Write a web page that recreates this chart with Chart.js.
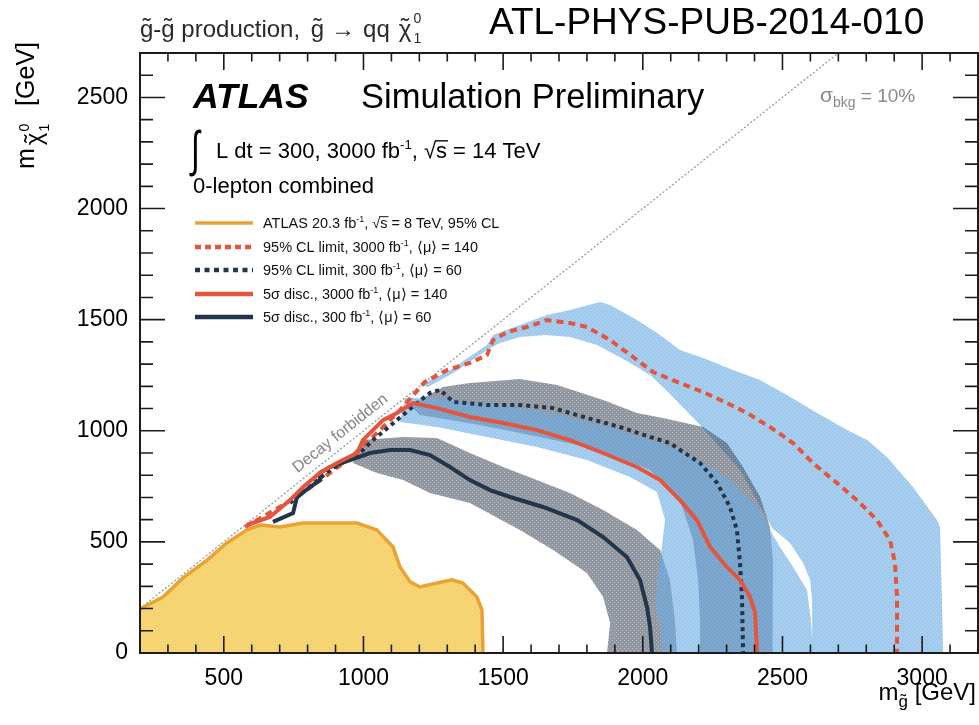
<!DOCTYPE html>
<html lang="en">
<head>
<meta charset="utf-8">
<title>Gluino pair production reach, 14 TeV</title>
<script src="https://cdn.jsdelivr.net/npm/chart.js"></script>
<style>
  html, body { margin: 0; padding: 0; background: #fff; }
</style>
</head>
<body>
<canvas id="reach" width="979" height="725"></canvas>
<script>
// axis ticks (GeV)
const xTicks = [500, 1000, 1500, 2000, 2500, 3000];
const yTicks = [0, 500, 1000, 1500, 2000, 2500];

// [m_gluino, m_neutralino] in GeV
const atlas8TeV = [[200,195],[206,202],[282,252],[354,338],[440,418],[511,495],[583,554],[630,576],[701,567],
  [784,585],[977,585],[1048,554],[1106,477],[1131,387],[1167,320],[1202,297],[1263,315],[1317,329],
  [1356,315],[1406,252],[1424,194],[1428,0]];

// +-1 sigma band of the 95% CL limit, 3000 fb-1
const band3000clOuter = [[1202,1206],[1299,1265],[1442,1386],[1464,1431],[1560,1476],[1657,1521],[1739,1544],
  [1847,1580],[1883,1566],[1979,1499],[2062,1431],[2133,1364],[2216,1328],[2323,1274],[2420,1229],
  [2516,1161],[2624,1080],[2731,1004],[2803,959],[2874,882],[2967,747],[3053,599],[3064,567],[3071,239],[3075,0]];
const band3000clInner = [[1231,1197],[1328,1265],[1442,1364],[1489,1395],[1560,1422],[1650,1431],[1739,1422],
  [1836,1386],[1936,1319],[2026,1251],[2090,1175],[2205,1026],[2348,824],[2463,563],[2527,495],
  [2574,405],[2599,329],[2606,239],[2609,0]];

// +-1 sigma band of the 5 sigma discovery, 3000 fb-1
const band3000discUpper = [[1149,1148],[1274,1148],[1489,1116],[1704,1071],[1918,1004],[2133,914],[2312,779],
  [2420,644],[2455,554],[2491,477],[2538,387],[2588,284],[2602,149],[2609,0]];
const band3000discLower = [[1131,1040],[1263,1017],[1442,972],[1621,927],[1800,869],[1954,792],[2051,725],
  [2080,599],[2062,419],[2044,239],[2062,104],[2072,0]];

// +-1 sigma band of the 95% CL limit, 300 fb-1
const band300clUpper = [[1167,1116],[1285,1197],[1381,1215],[1560,1233],[1693,1206],[1858,1139],[1979,1080],
  [2072,1058],[2216,1017],[2301,945],[2359,837],[2420,702],[2455,567],[2466,419],[2466,239],[2463,0]];
const band300clLower = [[1202,1071],[1417,1026],[1632,972],[1847,914],[2026,824],[2133,689],[2180,509],
  [2198,329],[2205,149],[2205,0]];

// +-1 sigma band of the 5 sigma discovery, 300 fb-1
const band300discUpper = [[998,958],[1142,972],[1263,967],[1381,900],[1500,837],[1621,778],[1739,720],
  [1858,643],[1979,553],[2062,463],[2097,328],[2115,148],[2122,0]];
const band300discLower = [[962,855],[1048,810],[1142,778],[1238,720],[1381,675],[1560,553],[1679,463],
  [1800,360],[1858,252],[1883,135],[1872,0]];

// central curves
const cl3000 = [[576,567],[773,711],[952,877],[1059,1003],[1131,1093],[1220,1220],[1299,1273],[1381,1305],
  [1442,1341],[1464,1408],[1514,1444],[1585,1467],[1657,1498],[1739,1485],[1800,1467],[1883,1408],
  [1965,1332],[2037,1264],[2133,1215],[2216,1174],[2301,1125],[2373,1080],[2455,1017],[2538,945],
  [2609,855],[2695,765],[2778,675],[2838,598],[2885,508],[2903,405],[2910,252],[2910,0]];
const cl300 = [[737,675],[880,823],[998,913],[1034,958],[1120,1048],[1192,1125],[1238,1170],[1274,1184],
  [1321,1130],[1442,1116],[1560,1116],[1679,1102],[1800,1058],[1918,1017],[2037,968],[2097,945],
  [2133,914],[2205,855],[2266,765],[2312,657],[2337,553],[2348,405],[2355,252],[2359,0]];
const disc3000 = [[583,576],[665,612],[737,688],[784,747],[844,810],[905,855],[977,900],[998,958],
  [1070,1048],[1120,1080],[1177,1125],[1263,1102],[1381,1062],[1500,1035],[1621,1003],[1739,958],
  [1858,900],[1979,837],[2062,778],[2133,688],[2194,598],[2241,477],[2301,387],[2348,328],[2384,252],
  [2402,180],[2409,0]];
const disc300 = [[676,590],[748,630],[762,702],[809,747],[844,778],[844,810],[880,837],[952,868],
  [1023,900],[1095,913],[1167,913],[1238,891],[1310,837],[1381,778],[1453,733],[1525,702],[1643,657],
  [1765,598],[1858,522],[1943,432],[1990,328],[2015,207],[2026,117],[2033,0]];

// kinematic limit m_chi = m_gluino
const diagonal = [[200,200],[2700,2700]];

const FONT = '"Liberation Sans", Arial, Helvetica, sans-serif';
const RED = '#e4553d';
const NAVY = '#22354a';
const ORANGE = '#eba233';

const pts = arr => arr.map(p => ({x: p[0], y: p[1]}));
const polygon = (a, b) => pts(a.concat(b.slice().reverse()));

function pattern(base, dot) {
  const c = document.createElement('canvas');
  c.width = 4; c.height = 4;
  const g = c.getContext('2d');
  g.fillStyle = base; g.fillRect(0, 0, 4, 4);
  g.clearRect(0, 0, 1, 1); g.clearRect(2, 2, 1, 1);
  g.fillStyle = dot; g.fillRect(0, 0, 1, 1); g.fillRect(2, 2, 1, 1);
  return g.createPattern(c, 'repeat');
}
const blueFill = pattern('rgba(105,172,228,0.64)', 'rgba(105,172,228,0.42)');
const grayFill = pattern('rgba(72,82,96,0.60)', 'rgba(72,82,96,0.38)');
const yellowFill = pattern('rgba(246,208,100,0.95)', 'rgba(246,208,100,0.6)');

function band(data, fill, order) {
  return { data: polygon(data[0], data[1]), showLine: true, fill: 'shape', backgroundColor: fill,
    borderWidth: 0, pointRadius: 0, order: order };
}
function curve(data, color, dash, order) {
  return { data: pts(data), showLine: true, fill: false, borderColor: color, borderWidth: 4,
    borderDash: dash, pointRadius: 0, order: order };
}

// draws text pieces left to right; piece = {t, s, dy, f, stay, tilde, over, gap}
function runs(ctx, x, y, parts, measureOnly) {
  let cx = x;
  for (const p of parts) {
    ctx.font = (p.f || '') + ' ' + p.s + 'px ' + FONT;
    const w = ctx.measureText(p.t).width;
    const by = y + (p.dy || 0);
    if (!measureOnly) {
      ctx.fillText(p.t, cx, by);
      if (p.tilde) {
        const tw = ctx.measureText('\u02DC').width;
        ctx.fillText('\u02DC', cx + (w - tw) / 2, by + (p.tdy || 0));
      }
      if (p.over) {
        ctx.save();
        ctx.lineWidth = Math.max(1, p.s / 16);
        ctx.strokeStyle = ctx.fillStyle;
        ctx.beginPath();
        ctx.moveTo(cx - 1, by - p.s * 0.78);
        ctx.lineTo(cx + w + 1, by - p.s * 0.78);
        ctx.stroke();
        ctx.restore();
      }
    }
    if (!p.stay) cx += w + (p.gap || 0);
  }
  return cx - x;
}

const legendRows = [
  { color: ORANGE, dash: [], width: 3.5, parts: [{t: 'ATLAS 20.3 fb', s: 14.5}, {t: '-1', s: 9, dy: -6}, {t: ', \u221A', s: 14.5}, {t: 's', s: 14.5, over: true}, {t: ' = 8 TeV, 95% CL', s: 14.5}] },
  { color: RED, dash: [6, 4], width: 4.5, parts: [{t: '95% CL limit, 3000 fb', s: 14.5}, {t: '-1', s: 9, dy: -6}, {t: ', \u27E8\u03BC\u27E9 = 140', s: 14.5}] },
  { color: NAVY, dash: [5, 4.5], width: 4.5, parts: [{t: '95% CL limit, 300 fb', s: 14.5}, {t: '-1', s: 9, dy: -6}, {t: ', \u27E8\u03BC\u27E9 = 60', s: 14.5}] },
  { color: RED, dash: [], width: 4.5, parts: [{t: '5\u03C3 disc., 3000 fb', s: 14.5}, {t: '-1', s: 9, dy: -6}, {t: ', \u27E8\u03BC\u27E9 = 140', s: 14.5}] },
  { color: NAVY, dash: [], width: 4.5, parts: [{t: '5\u03C3 disc., 300 fb', s: 14.5}, {t: '-1', s: 9, dy: -6}, {t: ', \u27E8\u03BC\u27E9 = 60', s: 14.5}] }
];
const legendY = [223, 247, 270, 294, 317];

const decorations = {
  id: 'decorations',
  afterDraw(chart) {
    const {ctx, chartArea: a, scales: {x, y}} = chart;
    ctx.save();

    // frame and inward ticks on all four sides
    ctx.strokeStyle = '#1c1c1c';
    ctx.lineWidth = 2;
    ctx.strokeRect(a.left, a.top, a.right - a.left, a.bottom - a.top);
    ctx.lineWidth = 1.6;
    ctx.beginPath();
    for (let v = 200; v <= 3200; v += 100) {
      const px = x.getPixelForValue(v);
      const len = v % 500 === 0 ? 17 : 8.5;
      ctx.moveTo(px, a.bottom); ctx.lineTo(px, a.bottom - len);
      ctx.moveTo(px, a.top); ctx.lineTo(px, a.top + len);
    }
    for (let v = 0; v <= 2700; v += 100) {
      const py = y.getPixelForValue(v);
      const len = v % 500 === 0 ? 25 : 13;
      ctx.moveTo(a.left, py); ctx.lineTo(a.left + len, py);
      ctx.moveTo(a.right, py); ctx.lineTo(a.right - len, py);
    }
    ctx.stroke();

    ctx.fillStyle = '#000';
    ctx.textBaseline = 'alphabetic';
    ctx.textAlign = 'left';

    // header above the frame
    ctx.fillStyle = '#2a2a2a';
    runs(ctx, 140, 37, [{t: 'g', s: 24, tilde: true, tdy: -2}, {t: '-', s: 24}, {t: 'g', s: 24, tilde: true, tdy: -2},
      {t: ' production, ', s: 24, gap: 4}, {t: 'g', s: 24, tilde: true, tdy: -2, gap: 7}, {t: '\u2192', s: 24, gap: 8},
      {t: 'qq', s: 24, gap: 9}, {t: '\u03C7', s: 24, tilde: true, tdy: -2, gap: 2},
      {t: '0', s: 14, dy: -14, stay: true}, {t: '1', s: 14, dy: 6}]);
    ctx.fillStyle = '#000';
    ctx.font = '37px ' + FONT;
    ctx.fillText('ATL-PHYS-PUB-2014-010', 489, 34);

    // ATLAS label block
    runs(ctx, 193, 108, [{t: 'ATLAS', s: 35.5, f: 'italic bold'}]);
    runs(ctx, 361, 108, [{t: 'Simulation Preliminary', s: 34.5}]);
    ctx.save();
    ctx.translate(191, 166);
    ctx.scale(1, 1.55);
    ctx.font = '32px ' + FONT;
    ctx.fillText('\u222B', 0, 0);
    ctx.restore();
    runs(ctx, 216, 158, [{t: 'L dt = 300, 3000 fb', s: 22}, {t: '-1', s: 13, dy: -9}, {t: ', \u221A', s: 22},
      {t: 's', s: 22, over: true}, {t: ' = 14 TeV', s: 22}]);
    runs(ctx, 193, 193, [{t: '0-lepton combined', s: 22}]);

    // legend
    legendRows.forEach((row, i) => {
      const ly = legendY[i];
      ctx.save();
      ctx.strokeStyle = row.color;
      ctx.lineWidth = row.width;
      ctx.setLineDash(row.dash);
      ctx.beginPath();
      ctx.moveTo(195, ly); ctx.lineTo(253, ly);
      ctx.stroke();
      ctx.restore();
      ctx.fillStyle = '#111';
      runs(ctx, 263, ly + 5, row.parts);
    });

    // sigma_bkg label
    ctx.fillStyle = '#8a8a8a';
    runs(ctx, 820, 102, [{t: '\u03C3', s: 21}, {t: 'bkg', s: 14, dy: 5}, {t: ' = 10%', s: 19}]);

    // kinematic boundary label
    ctx.save();
    ctx.translate(340, 433);
    ctx.rotate(-Math.atan2(y.getPixelForValue(0) - y.getPixelForValue(1000), x.getPixelForValue(1200) - x.getPixelForValue(200)));
    ctx.fillStyle = '#858585';
    ctx.font = '16px ' + FONT;
    ctx.textAlign = 'center';
    ctx.fillText('Decay forbidden', 0, 5);
    ctx.restore();

    // axis titles
    ctx.fillStyle = '#000';
    const xt = [{t: 'm', s: 24}, {t: 'g', s: 17, dy: 7, tilde: true, tdy: -1}, {t: ' [GeV]', s: 24}];
    const w = runs(ctx, 0, 0, xt, true);
    runs(ctx, 976 - w, 700, xt);
    ctx.save();
    ctx.translate(34, 169);
    ctx.rotate(-Math.PI / 2);
    runs(ctx, 0, 0, [{t: 'm', s: 25, gap: 3}, {t: '\u03C7', s: 24, dy: 8, tilde: true, tdy: -1, gap: 1},
      {t: '0', s: 14, dy: -5, stay: true}, {t: '1', s: 14, dy: 15, gap: 4}, {t: '  [GeV]', s: 25}]);
    ctx.restore();

    ctx.restore();
  }
};

const plain = v => String(v);

new Chart(document.getElementById('reach').getContext('2d'), {
  type: 'scatter',
  data: {
    datasets: [
      band([band3000clOuter, band3000clInner], blueFill, 20),
      band([band300clUpper, band300clLower], grayFill, 19),
      band([band300discUpper, band300discLower], grayFill, 18),
      band([band3000discUpper, band3000discLower], blueFill, 17),
      { data: pts(atlas8TeV), showLine: true, fill: 'origin', backgroundColor: yellowFill,
        borderColor: ORANGE, borderWidth: 3.5, pointRadius: 0, order: 16 },
      { data: pts(diagonal), showLine: true, fill: false, borderColor: '#9a9a9a', borderWidth: 1.3,
        borderDash: [2, 2], pointRadius: 0, order: 15 },
      curve(cl3000, RED, [7, 5], 5),
      curve(cl300, NAVY, [4, 4], 4),
      curve(disc300, NAVY, [], 3),
      curve(disc3000, RED, [], 2)
    ]
  },
  options: {
    responsive: false,
    animation: false,
    layout: { padding: { top: 53, right: 1, left: 0, bottom: 0 } },
    plugins: { legend: { display: false }, tooltip: { enabled: false } },
    scales: {
      x: {
        type: 'linear', min: 200, max: 3200,
        grid: { display: false, drawTicks: false }, border: { display: false },
        ticks: { font: { family: FONT, size: 23 }, color: '#000', padding: 12, maxRotation: 0, callback: plain },
        afterBuildTicks: s => { s.ticks = xTicks.map(v => ({ value: v })); },
        afterFit: s => { s.height = 72; }
      },
      y: {
        type: 'linear', min: 0, max: 2700,
        grid: { display: false, drawTicks: false }, border: { display: false },
        ticks: { font: { family: FONT, size: 23 }, color: '#000', padding: 12, callback: plain },
        afterBuildTicks: s => { s.ticks = yTicks.map(v => ({ value: v })); },
        afterFit: s => { s.width = 140; }
      }
    }
  },
  plugins: [decorations]
});
</script>
</body>
</html>
